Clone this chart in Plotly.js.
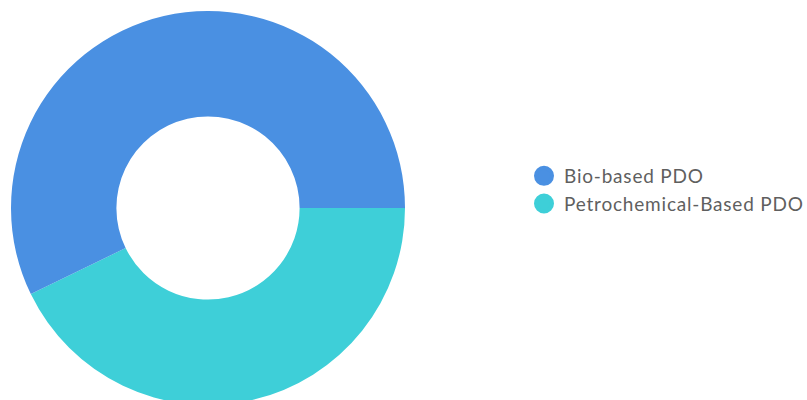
<!DOCTYPE html>
<html>
<head>
<meta charset="utf-8">
<script src="https://cdn.plot.ly/plotly-3.0.1.min.js"></script>
<style>
html,body{margin:0;padding:0;width:807px;height:400px;overflow:hidden;background:#fff;}
#chart{width:840px;height:420px;}
#chart .legendtext{letter-spacing:0.8px;}
#chart g.legend g.scrollbox, #chart g.legend{clip-path:none !important;}
</style>
</head>
<body>
<div id="chart"></div>
<script>
var labels = ["Bio-based PDO", "Petrochemical-Based PDO"];
var values = [57.2, 42.8];
var colors = ["#4A90E2", "#3ECFD8"];

// pie drawn clockwise from 3 o'clock, so list slices in reverse order
var pieLabels = labels.slice().reverse();
var pieValues = values.slice().reverse();
var pieColors = colors.slice().reverse();

var W = 840;

var traces = [{
  type: "pie",
  labels: pieLabels,
  values: pieValues,
  hole: 0.465,
  sort: false,
  direction: "clockwise",
  rotation: 90,
  textinfo: "none",
  hoverinfo: "label+percent",
  marker: {colors: pieColors, line: {width: 0}},
  domain: {x: [11/W, 405/W], y: [0, 1]},
  showlegend: false
}];

labels.forEach(function(lab, i){
  traces.push({
    type: "scatter",
    mode: "markers",
    x: [null], y: [null],
    name: lab,
    marker: {color: colors[i], size: 20, symbol: "circle", line: {color: colors[i], width: 4}},
    showlegend: true,
    hoverinfo: "skip"
  });
});

var layout = {
  width: W,
  height: 420,
  margin: {l: 0, r: 0, t: 11, b: 15},
  paper_bgcolor: "#ffffff",
  plot_bgcolor: "#ffffff",
  xaxis: {visible: false},
  yaxis: {visible: false},
  showlegend: true,
  legend: {
    x: 524/W, xanchor: "left",
    y: 0.5457, yanchor: "middle",
    font: {family: "Lato, 'Open Sans', sans-serif", size: 19, color: "#5f5f5f"},
    itemsizing: "trace",
    tracegroupgap: 0,
    bgcolor: "rgba(0,0,0,0)"
  },
  font: {family: "Lato, 'Open Sans', sans-serif"}
};

Plotly.newPlot("chart", traces, layout, {displayModeBar: false, staticPlot: true});
</script>
</body>
</html>
